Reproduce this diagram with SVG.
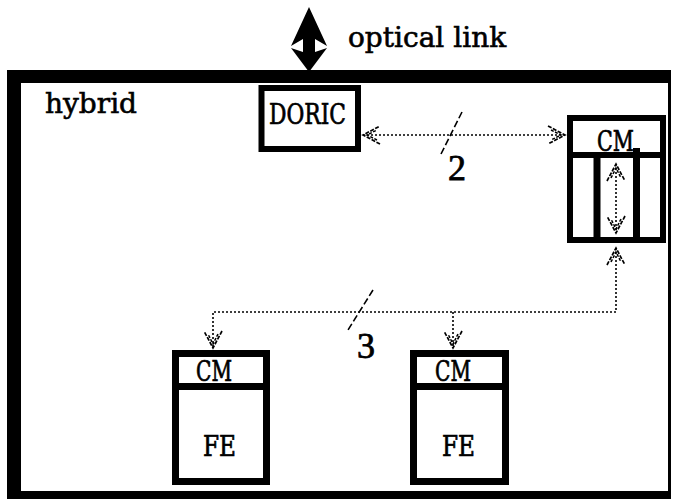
<svg xmlns="http://www.w3.org/2000/svg" width="674" height="499" viewBox="0 0 674 499">
  <style>
    .box { fill: #fff; stroke: #000; stroke-width: 7; }
    .bar { stroke: #000; stroke-width: 7; fill: none; }
    .lbl { font-family: "DejaVu Serif", "Liberation Serif", serif; font-size: 27px; fill: #000; stroke: #000; stroke-width: 0.7; }
    .big { font-family: "DejaVu Serif", "Liberation Serif", serif; font-size: 28px; fill: #000; stroke: #000; stroke-width: 0.6; }
    .num { font-family: "Liberation Serif", "Times New Roman", serif; font-size: 36px; fill: #000; stroke: #000; stroke-width: 0.8; }
    .bus { stroke: #000; stroke-width: 1.6; stroke-dasharray: 2 2; fill: none; }
    .slash { stroke: #000; stroke-width: 1.6; stroke-dasharray: 7 3; fill: none; }
  </style>
  <defs>
    <!-- sketchy open chevron used at both ends of the serial links -->
    <marker id="chev" viewBox="-20 -12 24 24" markerWidth="24" markerHeight="24" refX="0" refY="0" orient="auto-start-reverse" markerUnits="userSpaceOnUse">
      <path d="M-17,-9 L0,0 L-17,9" fill="none" stroke="#000" stroke-width="1.7" stroke-dasharray="4 1.5"/>
      <path d="M-14,-5 L-4,0 L-14,5" fill="none" stroke="#000" stroke-width="1.5" stroke-dasharray="3 1.5"/>
    </marker>
  </defs>

  <rect width="674" height="499" fill="#fff"/>

  <!-- hybrid outline -->
  <g id="hybrid">
    <path d="M7,70 H671 V505 H7 Z M21,83 V491 H668 V83 Z" fill="#000" fill-rule="evenodd"/>
    <text class="big" x="45" y="113">hybrid</text>
  </g>

  <!-- optical link, bidirectional -->
  <g id="optical-link">
    <polygon points="309,7 327,46 315,39 315,52 327,48 309,72 291,48 303,52 303,39 291,46" fill="#000"/>
    <text class="big" x="348" y="47">optical link</text>
  </g>

  <g id="doric">
    <rect class="box" x="261.5" y="88" width="96.5" height="61" style="stroke-width:6"/>
    <text class="lbl" x="269" y="124" textLength="77" lengthAdjust="spacingAndGlyphs">DORIC</text>
  </g>

  <g id="cm-main">
    <rect class="box" x="570" y="118" width="93" height="122" style="stroke-width:6"/>
    <line class="bar" x1="570" y1="155" x2="663" y2="155" style="stroke-width:6"/>
    <line class="bar" x1="597" y1="155" x2="597" y2="240"/>
    <line class="bar" x1="636.5" y1="148" x2="636.5" y2="240"/>
    <text class="lbl" x="597" y="151" textLength="37" lengthAdjust="spacingAndGlyphs">CM</text>
  </g>

  <g id="fe-1">
    <rect class="box" x="175.5" y="353.5" width="91" height="128"/>
    <line class="bar" x1="175.5" y1="386.5" x2="266.5" y2="386.5"/>
    <text class="lbl" x="196" y="381" textLength="36" lengthAdjust="spacingAndGlyphs">CM</text>
    <text class="lbl" x="203" y="456" textLength="33" lengthAdjust="spacingAndGlyphs">FE</text>
  </g>

  <g id="fe-2">
    <rect class="box" x="413.5" y="353.5" width="92" height="128"/>
    <line class="bar" x1="413.5" y1="386.5" x2="505.5" y2="386.5"/>
    <text class="lbl" x="435" y="381" textLength="36" lengthAdjust="spacingAndGlyphs">CM</text>
    <text class="lbl" x="442" y="456" textLength="33" lengthAdjust="spacingAndGlyphs">FE</text>
  </g>

  <g id="connectors">
    <!-- DORIC to main CM, 2 lines -->
    <line class="bus" x1="363" y1="135" x2="565" y2="135" marker-start="url(#chev)" marker-end="url(#chev)"/>
    <line class="slash" x1="462" y1="112" x2="441" y2="154"/>
    <text class="num" x="448" y="180">2</text>

    <!-- inside the main CM -->
    <line class="bus" x1="616" y1="164" x2="616" y2="233" marker-start="url(#chev)" marker-end="url(#chev)"/>

    <!-- main CM to front-end CMs, 3 lines -->
    <path class="bus" d="M616,248 V312 H213 V348" marker-start="url(#chev)" marker-end="url(#chev)"/>
    <path class="bus" d="M453,312 V348" marker-end="url(#chev)"/>
    <line class="slash" x1="373" y1="290" x2="348" y2="330"/>
    <text class="num" x="357" y="358">3</text>
  </g>
</svg>
